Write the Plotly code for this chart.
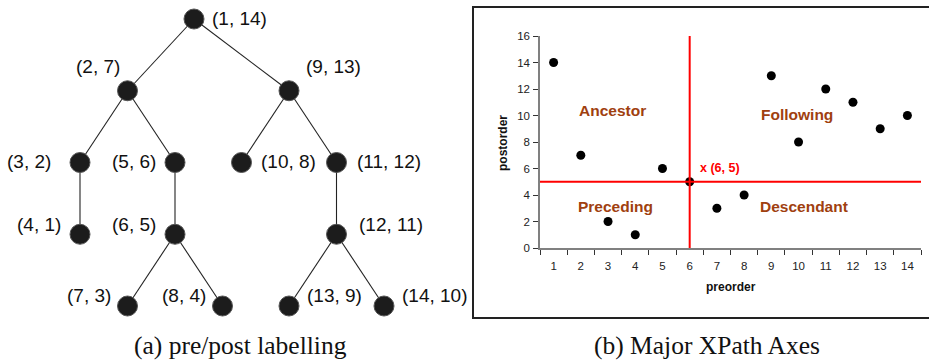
import plotly.graph_objects as go

# ---------------- data ----------------
pre = [1, 2, 3, 4, 5, 6, 7, 8, 9, 10, 11, 12, 13, 14]
post = [14, 7, 2, 1, 6, 5, 3, 4, 13, 8, 12, 11, 9, 10]
parent = [None, 1, 2, 3, 2, 5, 6, 6, 1, 9, 9, 11, 12, 12]
context_pre = 6
context_post = 5
quadrant_names = ["Ancestor", "Following", "Preceding", "Descendant"]
x_title = "preorder"
y_title = "postorder"
y_tick_values = [0, 2, 4, 6, 8, 10, 12, 14, 16]
captions = ["(a) pre/post labelling", "(b) Major XPath Axes"]

# ---------------- style / layout ----------------
W, H = 929, 361
SANS = "Liberation Sans, Arial, sans-serif"
SERIF = "Liberation Serif, Times New Roman, serif"
BROWN = "#A0400F"
RED = "#FF0000"
GRAY = "#808080"

# tree layout (pixels)
TREE_X0, SLOT = 80, 47.5
TREE_Y0, LEVEL = 19, 71.75
ROOT_CHILD_OFFSETS = (-1.4, 2.0)
# label placement per node: (xanchor, dx, dy) in screen pixels (dy down)
LABEL_POS = {
    1: ("left", 16, -1), 2: ("center", -30, -24), 9: ("center", 44, -24),
    3: ("right", -27, -1), 5: ("right", -17, -1), 10: ("left", 17, -1),
    11: ("left", 18, -1), 4: ("right", -17, -10), 6: ("right", -17, -10),
    12: ("left", 20, -10), 7: ("right", -15, -11), 8: ("right", -15, -11),
    13: ("left", 16, -11), 14: ("left", 16, -11),
}
QUAD_POS = [(3.15, 10.4), (9.95, 10.05), (3.29, 3.1), (10.21, 3.15)]

# ---------------- tree layout computation ----------------
children = {p: [] for p in pre}
for node, par in zip(pre, parent):
    if par is not None:
        children[par].append(node)

slot = {}
depth = {}


def place(node, s, d):
    slot[node] = s
    depth[node] = d
    kids = children[node]
    if d == 0 and len(kids) == 2:
        offs = ROOT_CHILD_OFFSETS
    elif len(kids) == 2:
        offs = (-1, 1)
    else:
        offs = (0,) * len(kids)
    for k, o in zip(kids, offs):
        place(k, s + o, d + 1)


root = pre[parent.index(None)]
place(root, 2.4, 0)
tx = {n: TREE_X0 + slot[n] * SLOT for n in pre}
ty = {n: TREE_Y0 + depth[n] * LEVEL for n in pre}

fig = go.Figure()

# edges
ex, ey = [], []
for node, par in zip(pre, parent):
    if par is not None:
        ex += [tx[par], tx[node], None]
        ey += [ty[par], ty[node], None]
fig.add_trace(go.Scatter(x=ex, y=ey, mode="lines", line=dict(color="#222222", width=1.1),
                         xaxis="x", yaxis="y", hoverinfo="skip", showlegend=False))
# nodes
fig.add_trace(go.Scatter(x=[tx[n] for n in pre], y=[ty[n] for n in pre], mode="markers",
                         marker=dict(size=20, color="#1c1c1c", line=dict(color="#555555", width=1)),
                         xaxis="x", yaxis="y", showlegend=False,
                         text=[f"({a}, {b})" for a, b in zip(pre, post)], hoverinfo="text"))

annotations = []
for a, b in zip(pre, post):
    anchor, dx, dy = LABEL_POS[a]
    annotations.append(dict(x=tx[a], y=ty[a], xref="x", yref="y", text=f"({a}, {b})",
                            showarrow=False, xanchor=anchor, yanchor="middle",
                            xshift=dx, yshift=-dy,
                            font=dict(family=SANS, size=19, color="#111111")))

# scatter panel
fig.add_trace(go.Scatter(x=pre, y=post, mode="markers",
                         marker=dict(size=9, color="#000000"),
                         xaxis="x2", yaxis="y2", showlegend=False))

for name, (qx, qy) in zip(quadrant_names, QUAD_POS):
    annotations.append(dict(x=qx, y=qy, xref="x2", yref="y2", text=f"<b>{name}</b>",
                            showarrow=False, xanchor="center", yanchor="middle",
                            font=dict(family=SANS, size=15.5, color=BROWN)))
annotations.append(dict(x=context_pre + 0.3, y=context_post + 1.05, xref="x2", yref="y2",
                        text=f"<b>x ({context_pre}, {context_post})</b>", showarrow=False,
                        xanchor="left", yanchor="middle",
                        font=dict(family=SANS, size=12.5, color=RED)))

# axis titles
annotations.append(dict(x=730.5 / W, y=1 - 287 / H, xref="paper", yref="paper",
                        text=f"<b>{x_title}</b>", showarrow=False, xanchor="center", yanchor="middle",
                        font=dict(family=SANS, size=12, color="#111111")))
annotations.append(dict(x=503 / W, y=1 - 143 / H, xref="paper", yref="paper",
                        text=f"<b>{y_title}</b>", showarrow=False, textangle=-90,
                        xanchor="center", yanchor="middle",
                        font=dict(family=SANS, size=12, color="#111111")))

# captions
annotations.append(dict(x=240 / W, y=1 - 345 / H, xref="paper", yref="paper", text=captions[0],
                        showarrow=False, xanchor="center", yanchor="middle",
                        font=dict(family=SERIF, size=25.5, color="#111111")))
annotations.append(dict(x=707 / W, y=1 - 345 / H, xref="paper", yref="paper", text=captions[1],
                        showarrow=False, xanchor="center", yanchor="middle",
                        font=dict(family=SERIF, size=25.5, color="#111111")))

shapes = [
    # frame around panel (b)
    dict(type="rect", xref="paper", yref="paper", x0=473 / W, x1=1.02, y0=1 - 318 / H, y1=1 - 7 / H,
         line=dict(color="#222222", width=2), fillcolor="rgba(0,0,0,0)", layer="below"),
    # red cross lines
    dict(type="line", xref="x2", yref="y2", x0=context_pre, x1=context_pre, y0=0, y1=16.38,
         line=dict(color=RED, width=2)),
    dict(type="line", xref="x2", yref="y2", x0=0.5, x1=14.5, y0=context_post, y1=context_post,
         line=dict(color=RED, width=2)),
]

fig.update_layout(
    width=W, height=H,
    margin=dict(l=0, r=0, t=0, b=0, autoexpand=False),
    paper_bgcolor="white", plot_bgcolor="white",
    xaxis=dict(domain=[0, 470 / W], range=[0, 470], visible=False, fixedrange=True),
    yaxis=dict(domain=[0, 1], range=[H, 0], visible=False, fixedrange=True),
    xaxis2=dict(domain=[540 / W, 921 / W], range=[0.5, 14.5], anchor="y2",
                tickvals=pre, ticktext=[str(v) for v in pre], ticks="",
                showline=True, linecolor=GRAY, linewidth=1.5, showgrid=False, zeroline=False,
                minor=dict(tickvals=[v - 0.5 for v in pre] + [pre[-1] + 0.5], ticks="outside",
                           ticklen=5, tickcolor="#333333", tickwidth=1.2),
                ticklabelstandoff=6,
                tickfont=dict(family=SANS, size=11.5, color="#222222")),
    yaxis2=dict(domain=[1 - 248 / H, 1 - 36 / H], range=[0, 16], anchor="x2",
                tickvals=y_tick_values, ticks="outside", ticklen=5, tickcolor="#333333", tickwidth=1.2,
                showline=True, linecolor=GRAY, linewidth=1.5, showgrid=False, zeroline=False,
                ticklabelstandoff=1,
                tickfont=dict(family=SANS, size=11.5, color="#222222")),
    annotations=annotations,
    shapes=shapes,
    showlegend=False,
)

fig.write_html("out.html", config={"displayModeBar": False},
               post_script="document.body.style.margin='0';document.body.style.padding='0';"
                           "document.body.style.overflow='hidden';")
